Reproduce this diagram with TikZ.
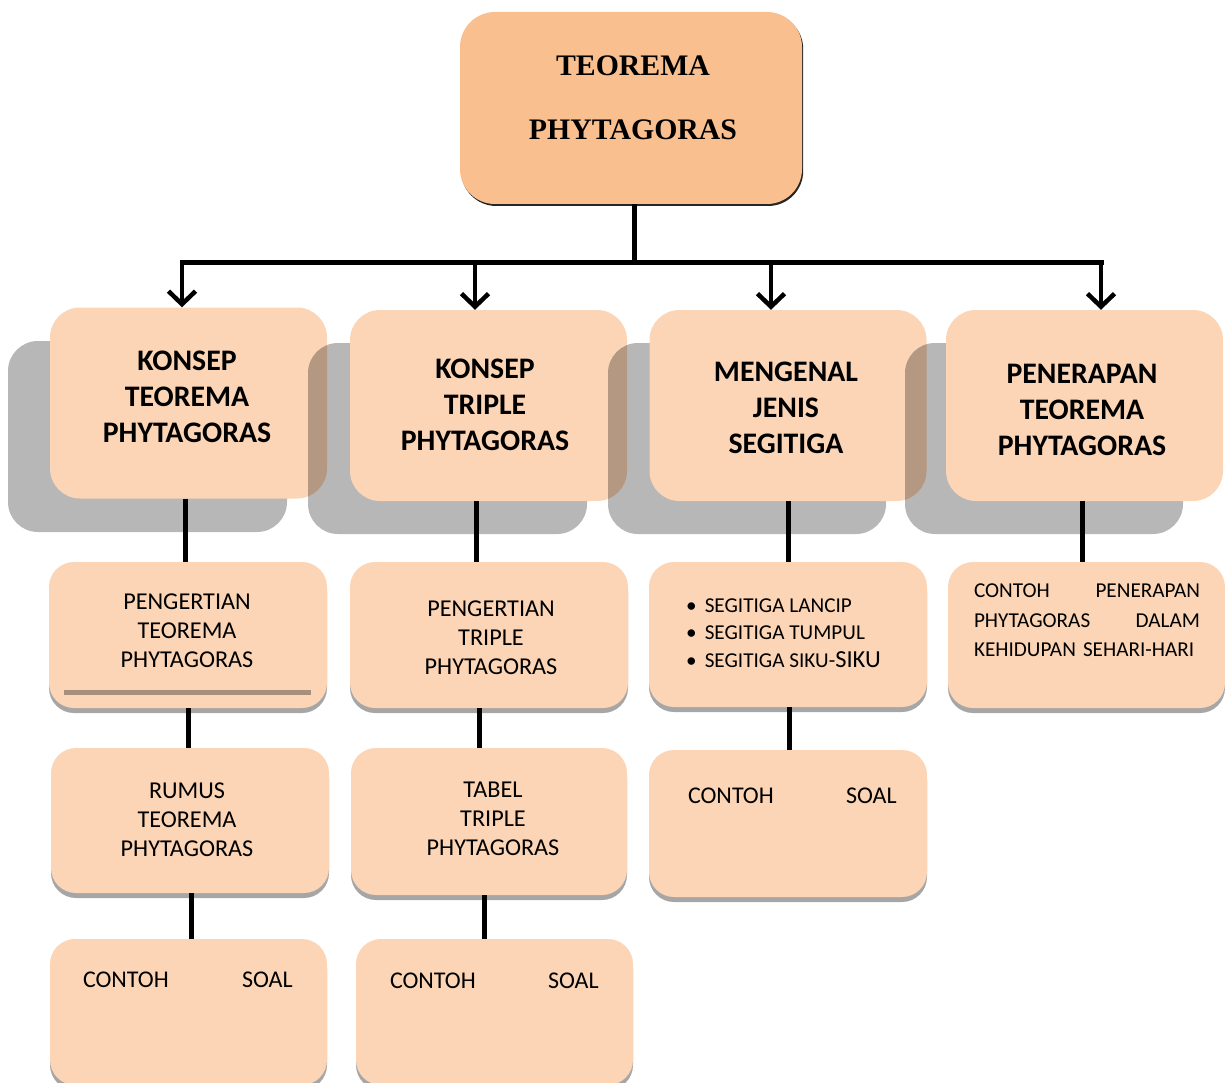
\documentclass[tikz,border=0pt]{standalone}
\usepackage{fontspec}
\setmainfont{Carlito}
\newfontfamily\serifb{Liberation Serif}
\usetikzlibrary{arrows.meta,calc,shadows}
\definecolor{topfill}{HTML}{FABF8F}
\definecolor{boxfill}{HTML}{FBD5B5}
\definecolor{shadeA}{HTML}{B7B7B7}
\definecolor{shadeB}{HTML}{A6A6A6}
\definecolor{barcol}{HTML}{A88F7C}
\begin{document}
\begin{tikzpicture}[x=1pt,y=-1pt,
  topbox/.style={rectangle, rounded corners=35pt, fill=topfill, minimum width=342pt, minimum height=192pt, inner sep=0pt,
     drop shadow={shadow xshift=1.2pt, shadow yshift=-2pt, fill=black!85, opacity=1}},
  lvlone/.style={rectangle, rounded corners=30pt, fill=boxfill, minimum width=277pt, minimum height=191pt, inner sep=0pt},
  lvltwo/.style={rectangle, rounded corners=25pt, fill=boxfill, minimum width=278pt, inner sep=0pt,
     drop shadow={shadow xshift=0pt, shadow yshift=-5pt, fill=shadeB, opacity=1}},
  bigshade/.style={fill=shadeA, rounded corners=30pt},
  toptext/.style={font=\serifb\bfseries\fontsize{29.8}{64}\selectfont, align=center, inner sep=0pt},
  onetext/.style={font=\bfseries\fontsize{29.8}{36}\selectfont, align=center, inner sep=0pt},
  twotext/.style={font=\fontsize{24.2}{29}\selectfont, align=center, inner sep=0pt},
  cstext/.style={font=\fontsize{24}{29}\selectfont, inner sep=0pt, anchor=base west},
  conn/.style={line width=5pt, draw=black},
  arr/.style={line width=4.5pt, draw=black, -{Straight Barb[length=13pt,width=27pt]}}
]
\useasboundingbox (0,0) rectangle (1225,1083);

% top box
\node[topbox] (top) at (631,108) {};
\node[toptext] (toptxt) at (633,98) {TEOREMA\\PHYTAGORAS};

% level one boxes with shadows
\begin{scope}[blend mode=multiply]
\fill[bigshade] (8,341) rectangle (287,532);
\end{scope}
\node[lvlone] (k1) at (188.5,403) {};
\begin{scope}[blend mode=multiply]
\fill[bigshade] (308,343) rectangle (587,534);
\end{scope}
\node[lvlone] (k2) at (488.5,405.5) {};
\begin{scope}[blend mode=multiply]
\fill[bigshade] (608,343) rectangle (886,534);
\end{scope}
\node[lvlone] (k3) at (788,405.5) {};
\begin{scope}[blend mode=multiply]
\fill[bigshade] (905,343) rectangle (1183,534);
\end{scope}
\node[lvlone] (k4) at (1084.5,405.5) {};

\node[onetext] (k1t) at (187,397) {KONSEP\\TEOREMA\\PHYTAGORAS};
\node[onetext] (k2t) at (485,405) {KONSEP\\TRIPLE\\PHYTAGORAS};
\node[onetext] (k3t) at (786,407.5) {MENGENAL\\JENIS\\SEGITIGA};
\node[onetext] (k4t) at (1082,410) {PENERAPAN\\TEOREMA\\PHYTAGORAS};

% level two boxes
\node[lvltwo, minimum height=146pt] (p1) at (188,635) {};
\fill[barcol] (64,690) rectangle (311,695);
\node[twotext] (p1t) at (187,631) {PENGERTIAN\\TEOREMA\\PHYTAGORAS};

\node[lvltwo, minimum height=146pt] (p2) at (489,635) {};
\node[twotext] (p2t) at (491,638) {PENGERTIAN\\TRIPLE\\PHYTAGORAS};

\node[lvltwo, minimum height=145pt] (s3) at (788,634.5) {};
\node[font=\fontsize{21.2}{27.5}\selectfont, align=left, inner sep=0pt, anchor=west] (s3t) at (686,633)
  {\textbullet\hspace{8pt}SEGITIGA LANCIP\\\textbullet\hspace{8pt}SEGITIGA TUMPUL\\\textbullet\hspace{8pt}SEGITIGA SIKU-{\fontsize{24.5}{27.5}\selectfont SIKU}};

\node[lvltwo, minimum width=277pt, minimum height=146pt] (a4) at (1086.5,635) {};
\node[font=\fontsize{21.2}{29.5}\selectfont, text width=226pt, align=left, inner sep=0pt] (a4t) at (1087,620.5)
  {CONTOH\hfill PENERAPAN\\PHYTAGORAS\hfill DALAM\\KEHIDUPAN SEHARI-HARI};

% level three boxes
\node[lvltwo, minimum height=145pt] (r1) at (190,820.5) {};
\node[twotext] (r1t) at (187,820) {RUMUS\\TEOREMA\\PHYTAGORAS};

\node[lvltwo, minimum width=276pt, minimum height=147pt] (t2) at (489,821.5) {};
\node[twotext] (t2t) at (493,819) {TABEL\\TRIPLE\\PHYTAGORAS};

\node[lvltwo, minimum height=147pt] (c3) at (788,823.5) {};
\node[cstext] (c3a) at ($(c3.north west)+(39,53.5)$) {CONTOH};
\node[cstext] (c3b) at ($(c3.north west)+(197,53.5)$) {SOAL};

% level four boxes
\node[lvltwo, minimum width=277pt, minimum height=146pt] (c1) at (188.5,1012) {};
\node[cstext] (c1a) at ($(c1.north west)+(33,49)$) {CONTOH};
\node[cstext] (c1b) at ($(c1.north west)+(192,49)$) {SOAL};

\node[lvltwo, minimum width=277pt, minimum height=146pt] (c2) at (494.5,1012) {};
\node[cstext] (c2a) at ($(c2.north west)+(34,50)$) {CONTOH};
\node[cstext] (c2b) at ($(c2.north west)+(192,50)$) {SOAL};

% connectors
\coordinate (hub) at (634,262);
\coordinate (b1) at (182,262);
\coordinate (b2) at (475,262);
\coordinate (b3) at (771,262);
\coordinate (b4) at (1101,262);
\draw[conn] ([xshift=3pt]top.south) -- (hub);
\draw[conn] ([xshift=-2.5pt]b1) -- ([xshift=2.5pt]b4);
\draw[arr] (b1) -- (b1 |- k1.north);
\draw[arr] (b2) -- (b2 |- k2.north);
\draw[arr] (b3) -- (b3 |- k3.north);
\draw[arr] (b4) -- (b4 |- k4.north);

\draw[conn] ([xshift=-3.5pt]k1.south) -- ([xshift=-3.5pt]k1.south |- p1.north);
\draw[conn] (p1.south) -- (p1.south |- r1.north);
\draw[conn] ([xshift=1pt]r1.south) -- ([xshift=1pt]r1.south |- c1.north);
\draw[conn] ([xshift=-12.5pt]k2.south) -- ([xshift=-12.5pt]k2.south |- p2.north);
\draw[conn] ([xshift=-10pt]p2.south) -- ([xshift=-10pt]p2.south |- t2.north);
\draw[conn] ([xshift=-5pt]t2.south) -- ([xshift=-5pt]t2.south |- c2.north);
\draw[conn] (k3.south) -- (k3.south |- s3.north);
\draw[conn] ([xshift=1pt]s3.south) -- ([xshift=1pt]s3.south |- c3.north);
\draw[conn] ([xshift=-2.5pt]k4.south) -- ([xshift=-2.5pt]k4.south |- a4.north);
\end{tikzpicture}
\end{document}
